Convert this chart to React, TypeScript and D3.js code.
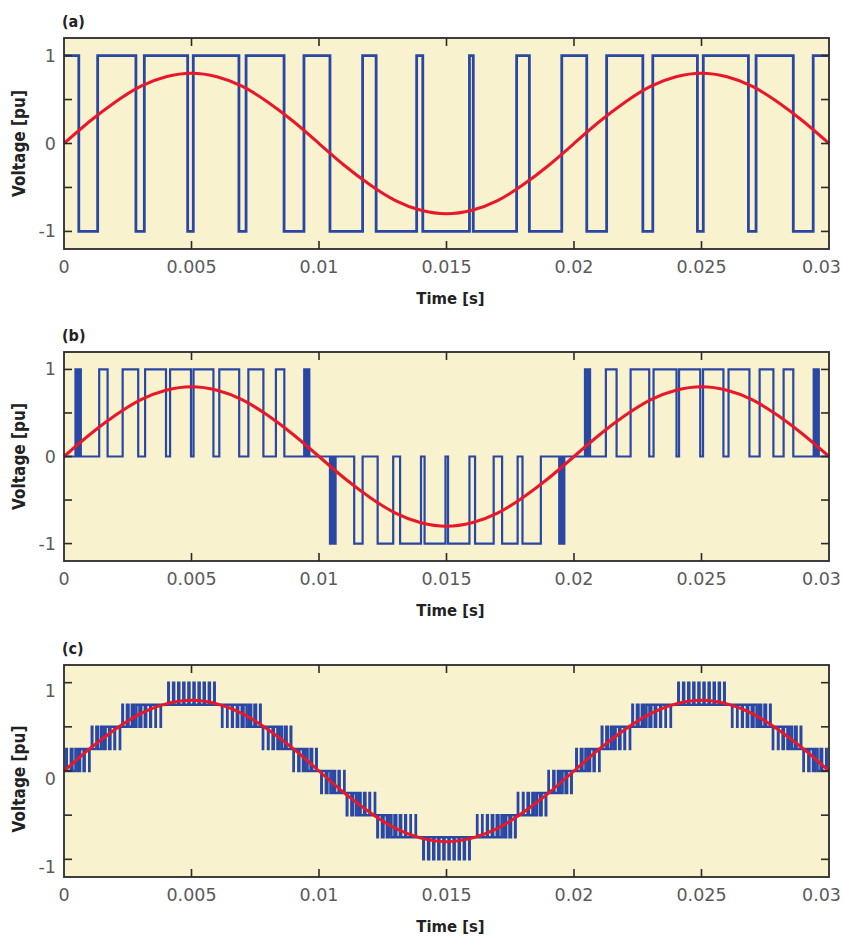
import * as d3 from "d3";

// axis ticks
const xTickMs = [0, 5, 10, 15, 20, 25, 30];
const xTickLabels = ["0", "0.005", "0.01", "0.015", "0.02", "0.025", "0.03"];
const yTicks = [-1, -0.5, 0, 0.5, 1];
const yLabelled = [1, 0, -1];

const panelNames = ["(a)", "(b)", "(c)"];
const panelTop = [38, 352, 665];
const panelHeight = [211, 209, 212];
const yLabelShift = [0, 0, 8];

// reference (red), read every 1 ms
const refT = [0, 1, 2, 3, 4, 5, 6, 7, 8, 9, 10, 11, 12, 13, 14, 15, 16, 17, 18, 19, 20, 21, 22, 23, 24, 25, 26, 27, 28, 29, 30];
const refV = [0, 0.25, 0.47, 0.65, 0.76, 0.8, 0.76, 0.65, 0.47, 0.25, 0, -0.25, -0.47, -0.65, -0.76, -0.8, -0.76, -0.65, -0.47, -0.25, 0, 0.25, 0.47, 0.65, 0.76, 0.8, 0.76, 0.65, 0.47, 0.25, 0];

// (a) two-level output: switching instants in ms, starts at +1
const aSwitch = [0.58, 1.32, 2.82, 3.15, 4.85, 5.07, 6.86, 7.14, 8.63, 9.41, 10.43, 11.71, 12.24, 13.83, 14.07, 15.9, 16.05, 17.75, 18.25, 19.52, 20.5, 21.28, 22.7, 23.09, 24.84, 25.07, 26.84, 27.14, 28.6, 29.38];

// (b) three-level output: pulses to +1 and to -1, [on, off] in ms
const bPos: [number, number][] = [
  [0.45, 0.52], [0.58, 0.66], [1.38, 1.71], [2.3, 2.91], [3.18, 4.0], [4.16, 4.98], [5.08, 5.86], [6.09, 6.87], [7.23, 7.82], [8.31, 8.64], [9.42, 9.5], [9.55, 9.62],
  [20.43, 20.5], [20.56, 20.63], [21.25, 21.67], [22.22, 22.95], [23.12, 24.02], [24.12, 24.95], [25.06, 25.86], [26.06, 26.88], [27.28, 27.82], [28.22, 28.6], [29.4, 29.48], [29.53, 29.6],
];
const bNeg: [number, number][] = [
  [10.43, 10.5], [10.57, 10.65], [11.38, 11.71], [12.3, 12.91], [13.18, 14.0], [14.14, 14.96], [15.06, 15.9], [16.12, 16.85], [17.18, 17.79], [17.98, 18.7], [19.42, 19.5], [19.55, 19.62],
];

// (c) multilevel output over one half cycle (ms); 2nd half is the negative, 3rd repeats
const cBandEdge = [0, 1.0, 2.2, 3.8, 6.2, 7.8, 9.0, 10.0];
const cInner = [0, 0.25, 0.5, 0.75, 0.5, 0.25, 0];
const cOuter = [0.25, 0.5, 0.75, 1, 0.75, 0.5, 0.25];
const cPulses: [number, number][] = [
  [0.09, 0.11], [0.27, 0.33], [0.45, 0.55], [0.63, 0.77], [0.81, 0.99],
  [1.09, 1.11], [1.27, 1.33], [1.45, 1.55], [1.63, 1.77], [1.82, 1.98], [2.0, 2.19],
  [2.29, 2.31], [2.47, 2.53], [2.66, 2.74], [2.84, 2.96], [3.03, 3.17], [3.22, 3.38], [3.41, 3.59], [3.6, 3.79],
  [4.09, 4.11], [4.28, 4.32], [4.48, 4.52], [4.68, 4.72], [4.88, 4.92], [5.08, 5.12], [5.28, 5.32], [5.48, 5.52], [5.68, 5.72], [5.89, 5.91],
  [6.21, 6.4], [6.41, 6.59], [6.62, 6.78], [6.83, 6.97], [7.04, 7.16], [7.26, 7.34], [7.47, 7.53], [7.69, 7.71],
  [7.81, 8.0], [8.02, 8.18], [8.23, 8.37], [8.45, 8.55], [8.67, 8.73], [8.89, 8.91],
  [9.01, 9.19], [9.23, 9.37], [9.45, 9.55], [9.67, 9.73], [9.89, 9.91],
];
const cHalfSign = [1, -1, 1];

type Pt = [number, number];

function seriesA(): Pt[] {
  const pts: Pt[] = [[0, 1]];
  let lv = 1;
  aSwitch.forEach((t) => {
    lv = -lv;
    pts.push([t, lv]);
  });
  pts.push([30, lv]);
  return pts;
}

function seriesB(): Pt[] {
  const ev: Pt[] = [[0, 0]];
  bPos.forEach(([a, b]) => ev.push([a, 1], [b, 0]));
  bNeg.forEach(([a, b]) => ev.push([a, -1], [b, 0]));
  ev.sort((p, q) => p[0] - q[0]);
  ev.push([30, 0]);
  return ev;
}

function seriesC(): Pt[] {
  const pts: Pt[] = [];
  cHalfSign.forEach((s, h) => {
    const off = h * 10;
    cInner.forEach((inner, i) => {
      const t0 = cBandEdge[i];
      const t1 = cBandEdge[i + 1];
      pts.push([off + t0, s * inner]);
      cPulses
        .filter(([a]) => a >= t0 && a < t1)
        .forEach(([a, b]) => pts.push([off + a, s * cOuter[i]], [off + b, s * inner]));
    });
  });
  pts.push([30, 0]);
  return pts;
}

const BG = "#f8f2cf";
const BLUE = "#2a47a4";
const RED = "#e8182a";
const FRAME = "#2b2b2b";
const LEFT = 64;
const RIGHT = 829;

function Panel({ idx, wave, waveWidth }: { idx: number; wave: Pt[]; waveWidth: number }) {
  const top = panelTop[idx];
  const h = panelHeight[idx];
  const bottom = top + h;
  const x = d3.scaleLinear().domain([0, 30]).range([LEFT, RIGHT]);
  const y = d3.scaleLinear().domain([-1.2, 1.2]).range([bottom, top]);
  const step = d3.line<Pt>().x((d) => x(d[0])).y((d) => y(d[1])).curve(d3.curveStepAfter);
  const smooth = d3
    .line<number>()
    .x((_, i) => x(refT[i]))
    .y((d) => y(d))
    .curve(d3.curveNatural);
  const shift = yLabelShift[idx];
  const tl = 8;

  return (
    <g>
      <text x={62} y={top - 11} fontFamily="DejaVu Sans Condensed, DejaVu Sans" fontStretch="condensed" fontWeight="bold" fontSize={16} fill="#222">
        {panelNames[idx]}
      </text>
      <rect x={LEFT} y={top} width={RIGHT - LEFT} height={h} fill={BG} />
      <path d={step(wave) || ""} fill="none" stroke={BLUE} strokeWidth={waveWidth} strokeLinejoin="miter" />
      <path d={smooth(refV) || ""} fill="none" stroke={RED} strokeWidth={3} />
      {xTickMs.slice(1, -1).map((t) => (
        <g key={"xt" + t} stroke={FRAME} strokeWidth={1.6}>
          <line x1={x(t)} x2={x(t)} y1={bottom} y2={bottom - tl} />
          <line x1={x(t)} x2={x(t)} y1={top} y2={top + tl} />
        </g>
      ))}
      {yTicks.map((v) => (
        <g key={"yt" + v} stroke={FRAME} strokeWidth={1.6}>
          <line x1={LEFT} x2={LEFT + tl} y1={y(v)} y2={y(v)} />
          <line x1={RIGHT} x2={RIGHT - tl} y1={y(v)} y2={y(v)} />
        </g>
      ))}
      <rect x={LEFT} y={top} width={RIGHT - LEFT} height={h} fill="none" stroke={FRAME} strokeWidth={1.8} />
      {xTickMs.map((t, i) => {
        const last = i === xTickMs.length - 1;
        return (
          <text
            key={"xl" + t}
            x={last ? 841 : x(t)}
            y={bottom + 24}
            textAnchor={last ? "end" : "middle"}
            fontFamily="DejaVu Sans"
            fontSize={17.5}
            fill="#5a5a5a"
          >
            {xTickLabels[i]}
          </text>
        );
      })}
      {yLabelled.map((v) => (
        <text key={"yl" + v} x={56} y={y(v) + 6 + shift} textAnchor="end" fontFamily="DejaVu Sans" fontSize={17.5} fill="#5a5a5a">
          {v === 0 ? "0" : v > 0 ? "1" : "-1"}
        </text>
      ))}
      <text
        transform={`translate(25,${y(0) + shift}) rotate(-90)`}
        textAnchor="middle"
        fontFamily="DejaVu Sans Condensed, DejaVu Sans"
        fontStretch="condensed"
        fontWeight="bold"
        fontSize={17}
        fill="#222"
      >
        Voltage [pu]
      </text>
      <text
        x={(LEFT + RIGHT) / 2 + 4}
        y={bottom + 55}
        textAnchor="middle"
        fontFamily="DejaVu Sans Condensed, DejaVu Sans"
        fontStretch="condensed"
        fontWeight="bold"
        fontSize={16.5}
        fill="#222"
      >
        Time [s]
      </text>
    </g>
  );
}

export default function App() {
  return (
    <svg
      width={843}
      height={938}
      style={{ position: "absolute", left: 0, top: 0, background: "#fff" }}
    >
      <Panel idx={0} wave={seriesA()} waveWidth={2.8} />
      <Panel idx={1} wave={seriesB()} waveWidth={2.2} />
      <Panel idx={2} wave={seriesC()} waveWidth={2.5} />
    </svg>
  );
}
